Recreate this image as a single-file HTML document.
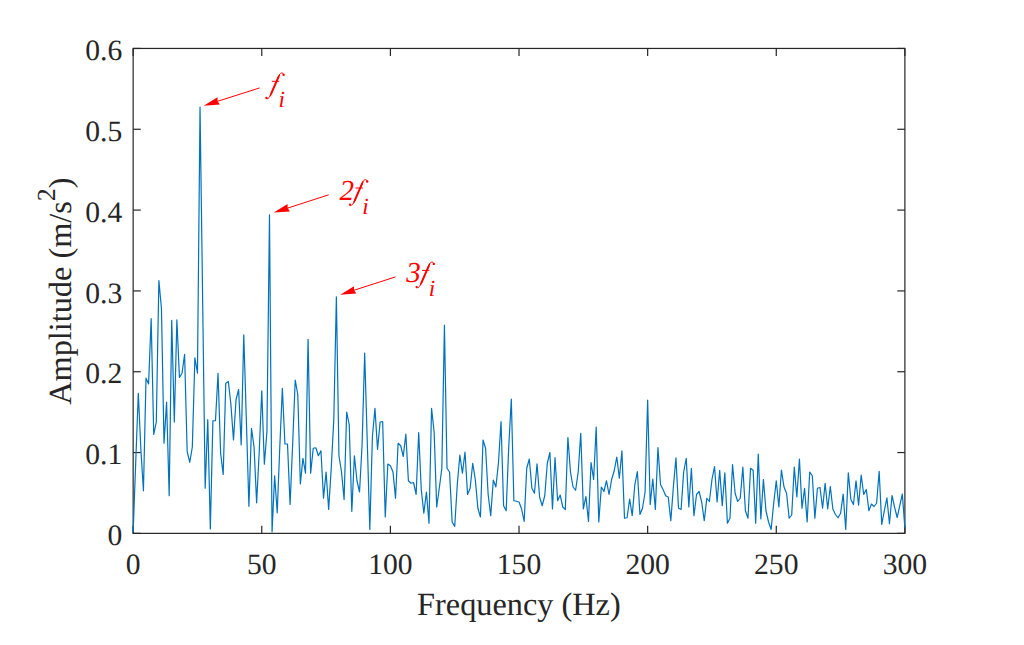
<!DOCTYPE html>
<html><head><meta charset="utf-8"><title>Spectrum</title>
<style>
html,body{margin:0;padding:0;background:#fff;}
svg{display:block;}
text{font-family:"Liberation Serif",serif;text-rendering:geometricPrecision;}
.tk{font-size:29.6px;fill:#262626;}
.lb{font-size:32.3px;fill:#262626;}
.an{font-size:29px;font-style:italic;fill:#FF0000;}
</style></head><body>
<svg width="1024" height="645" viewBox="0 0 1024 645">
<rect width="1024" height="645" fill="#fff"/>
<rect x="133.15" y="48.45" width="771.75" height="484.92" fill="none" stroke="#262626" stroke-width="1.2"/>
<line x1="133.15" y1="533.37" x2="133.15" y2="525.77" stroke="#262626" stroke-width="1.2"/>
<line x1="133.15" y1="48.45" x2="133.15" y2="56.050000000000004" stroke="#262626" stroke-width="1.2"/>
<text x="133.15" y="573.6" text-anchor="middle" class="tk">0</text>
<line x1="261.77" y1="533.37" x2="261.77" y2="525.77" stroke="#262626" stroke-width="1.2"/>
<line x1="261.77" y1="48.45" x2="261.77" y2="56.050000000000004" stroke="#262626" stroke-width="1.2"/>
<text x="261.77" y="573.6" text-anchor="middle" class="tk">50</text>
<line x1="390.40" y1="533.37" x2="390.40" y2="525.77" stroke="#262626" stroke-width="1.2"/>
<line x1="390.40" y1="48.45" x2="390.40" y2="56.050000000000004" stroke="#262626" stroke-width="1.2"/>
<text x="390.40" y="573.6" text-anchor="middle" class="tk">100</text>
<line x1="519.02" y1="533.37" x2="519.02" y2="525.77" stroke="#262626" stroke-width="1.2"/>
<line x1="519.02" y1="48.45" x2="519.02" y2="56.050000000000004" stroke="#262626" stroke-width="1.2"/>
<text x="519.02" y="573.6" text-anchor="middle" class="tk">150</text>
<line x1="647.65" y1="533.37" x2="647.65" y2="525.77" stroke="#262626" stroke-width="1.2"/>
<line x1="647.65" y1="48.45" x2="647.65" y2="56.050000000000004" stroke="#262626" stroke-width="1.2"/>
<text x="647.65" y="573.6" text-anchor="middle" class="tk">200</text>
<line x1="776.27" y1="533.37" x2="776.27" y2="525.77" stroke="#262626" stroke-width="1.2"/>
<line x1="776.27" y1="48.45" x2="776.27" y2="56.050000000000004" stroke="#262626" stroke-width="1.2"/>
<text x="776.27" y="573.6" text-anchor="middle" class="tk">250</text>
<line x1="904.90" y1="533.37" x2="904.90" y2="525.77" stroke="#262626" stroke-width="1.2"/>
<line x1="904.90" y1="48.45" x2="904.90" y2="56.050000000000004" stroke="#262626" stroke-width="1.2"/>
<text x="904.90" y="573.6" text-anchor="middle" class="tk">300</text>
<line x1="133.15" y1="533.37" x2="140.75" y2="533.37" stroke="#262626" stroke-width="1.2"/>
<line x1="904.9" y1="533.37" x2="897.3" y2="533.37" stroke="#262626" stroke-width="1.2"/>
<text x="122.2" y="545.07" text-anchor="end" class="tk">0</text>
<line x1="133.15" y1="452.55" x2="140.75" y2="452.55" stroke="#262626" stroke-width="1.2"/>
<line x1="904.9" y1="452.55" x2="897.3" y2="452.55" stroke="#262626" stroke-width="1.2"/>
<text x="122.2" y="464.25" text-anchor="end" class="tk">0.1</text>
<line x1="133.15" y1="371.73" x2="140.75" y2="371.73" stroke="#262626" stroke-width="1.2"/>
<line x1="904.9" y1="371.73" x2="897.3" y2="371.73" stroke="#262626" stroke-width="1.2"/>
<text x="122.2" y="383.43" text-anchor="end" class="tk">0.2</text>
<line x1="133.15" y1="290.91" x2="140.75" y2="290.91" stroke="#262626" stroke-width="1.2"/>
<line x1="904.9" y1="290.91" x2="897.3" y2="290.91" stroke="#262626" stroke-width="1.2"/>
<text x="122.2" y="302.61" text-anchor="end" class="tk">0.3</text>
<line x1="133.15" y1="210.09" x2="140.75" y2="210.09" stroke="#262626" stroke-width="1.2"/>
<line x1="904.9" y1="210.09" x2="897.3" y2="210.09" stroke="#262626" stroke-width="1.2"/>
<text x="122.2" y="221.79" text-anchor="end" class="tk">0.4</text>
<line x1="133.15" y1="129.27" x2="140.75" y2="129.27" stroke="#262626" stroke-width="1.2"/>
<line x1="904.9" y1="129.27" x2="897.3" y2="129.27" stroke="#262626" stroke-width="1.2"/>
<text x="122.2" y="140.97" text-anchor="end" class="tk">0.5</text>
<line x1="133.15" y1="48.45" x2="140.75" y2="48.45" stroke="#262626" stroke-width="1.2"/>
<line x1="904.9" y1="48.45" x2="897.3" y2="48.45" stroke="#262626" stroke-width="1.2"/>
<text x="122.2" y="60.15" text-anchor="end" class="tk">0.6</text>
<polyline points="133.15,532.00 135.72,462.50 138.30,393.25 140.87,449.50 143.44,490.80 146.01,378.20 148.59,384.00 151.16,318.50 153.73,434.50 156.30,422.00 158.88,280.50 161.45,308.50 164.02,443.25 166.59,402.00 169.17,495.75 171.74,320.25 174.31,422.00 176.88,319.75 179.45,377.50 182.03,373.25 184.60,354.25 187.17,451.50 189.75,462.40 192.32,447.00 194.89,357.75 197.46,373.25 200.03,107.00 202.61,297.62 205.18,488.25 207.75,419.50 210.32,529.00 212.90,420.75 215.47,420.75 218.04,373.25 220.62,453.25 223.19,474.50 225.76,383.25 228.33,381.50 230.91,404.50 233.48,440.00 236.05,399.50 238.62,389.50 241.19,445.00 243.77,334.75 246.34,419.50 248.91,506.30 251.49,428.25 254.06,447.00 256.63,502.80 259.20,452.00 261.77,390.75 264.35,464.20 266.92,432.00 269.49,214.75 272.06,532.00 274.64,475.75 277.21,512.80 279.78,447.00 282.36,388.25 284.93,444.00 287.50,444.00 290.07,504.50 292.64,444.50 295.22,380.00 297.79,394.50 300.36,484.00 302.94,458.25 305.51,473.25 308.08,339.25 310.65,473.25 313.23,448.25 315.80,447.75 318.37,455.75 320.94,450.75 323.51,498.25 326.09,472.00 328.66,509.50 331.23,468.25 333.80,419.50 336.38,296.75 338.95,455.75 341.52,472.00 344.10,499.50 346.67,412.00 349.24,424.50 351.81,511.50 354.38,455.75 356.96,480.75 359.53,492.00 362.10,444.50 364.67,353.00 367.25,441.25 369.82,529.50 372.39,437.00 374.96,408.25 377.54,449.50 380.11,422.00 382.68,421.50 385.25,517.00 387.83,464.00 390.40,465.75 392.97,472.00 395.54,498.25 398.12,443.25 400.69,445.75 403.26,456.50 405.84,434.00 408.41,480.75 410.98,483.25 413.55,482.50 416.12,494.50 418.70,432.50 421.27,489.50 423.84,513.25 426.41,492.00 428.99,523.25 431.56,408.25 434.13,432.00 436.70,507.00 439.28,488.25 441.85,468.25 444.42,325.20 447.00,468.25 449.57,472.00 452.14,522.00 454.71,526.50 457.28,484.50 459.86,455.00 462.43,473.25 465.00,452.00 467.57,494.50 470.15,488.25 472.72,463.25 475.29,479.50 477.87,508.25 480.44,517.00 483.01,440.00 485.58,448.25 488.15,494.50 490.73,515.75 493.30,480.00 495.87,487.00 498.44,463.25 501.02,421.50 503.59,505.75 506.16,510.75 508.74,447.00 511.31,399.00 513.88,500.75 516.45,501.25 519.02,502.00 521.60,509.00 524.17,521.50 526.74,468.25 529.31,459.00 531.89,488.25 534.46,493.25 537.03,463.75 539.61,497.00 542.18,505.75 544.75,495.75 547.32,463.25 549.89,452.50 552.47,509.00 555.04,457.50 557.61,500.75 560.18,495.00 562.76,507.00 565.33,509.50 567.90,437.50 570.48,472.00 573.05,487.00 575.62,490.25 578.19,472.00 580.76,433.25 583.34,509.00 585.91,496.50 588.48,521.50 591.05,462.50 593.63,479.50 596.20,427.00 598.77,522.00 601.34,487.00 603.92,491.50 606.49,480.75 609.06,494.50 611.63,479.50 614.21,470.75 616.78,457.00 619.35,478.25 621.92,450.75 624.50,518.25 627.07,517.75 629.64,499.00 632.21,515.75 634.79,485.00 637.36,471.50 639.93,514.50 642.50,508.25 645.08,492.00 647.65,400.00 650.22,504.50 652.79,479.00 655.37,509.50 657.94,447.50 660.51,484.50 663.08,489.50 665.66,495.75 668.23,497.00 670.80,520.75 673.37,487.00 675.95,457.75 678.52,508.25 681.09,509.50 683.66,472.00 686.24,458.25 688.81,507.00 691.38,468.25 693.95,515.75 696.53,494.50 699.10,491.50 701.67,502.00 704.24,520.75 706.82,498.25 709.39,501.50 711.96,479.50 714.53,466.50 717.11,502.00 719.68,470.25 722.25,505.75 724.82,472.75 727.40,523.25 729.97,518.25 732.54,464.50 735.11,493.25 737.69,501.50 740.26,498.25 742.83,467.00 745.40,510.75 747.98,518.25 750.55,468.25 753.12,470.25 755.69,523.25 758.27,454.00 760.84,519.00 763.41,479.50 765.98,510.75 768.56,522.00 771.13,529.50 773.70,503.25 776.27,480.75 778.85,507.00 781.42,470.00 783.99,487.00 786.56,493.25 789.14,518.25 791.71,515.00 794.28,467.00 796.85,497.00 799.43,459.00 802.00,508.25 804.57,488.25 807.14,522.00 809.72,472.00 812.29,475.75 814.86,518.25 817.43,488.25 820.01,487.50 822.58,508.25 825.15,483.25 827.72,509.00 830.30,486.50 832.87,509.00 835.44,514.50 838.01,517.75 840.59,513.25 843.16,494.00 845.73,529.50 848.30,472.75 850.88,499.50 853.45,504.50 856.02,480.75 858.59,505.25 861.17,475.00 863.74,494.50 866.31,489.50 868.88,510.75 871.46,504.00 874.03,506.50 876.60,503.25 879.17,471.25 881.75,524.50 884.32,510.75 886.89,497.90 889.46,523.70 892.04,495.50 894.61,507.30 897.18,517.50 899.75,505.70 902.33,494.00 904.90,528.30" fill="none" stroke="#0072BD" stroke-width="1.2" stroke-linejoin="round" stroke-linecap="butt"/>
<text x="518.9" y="614.8" text-anchor="middle" class="lb">Frequency (Hz)</text>
<text transform="translate(71.0,291.1) rotate(-90)" text-anchor="middle" class="lb">Amplitude (m/s<tspan dy="-16.25" font-size="26">2</tspan><tspan dy="16.25">)</tspan></text>
<line x1="259.60" y1="87.95" x2="217.62" y2="101.28" stroke="#FF0000" stroke-width="1.0"/><polygon points="203.70,105.70 217.50,97.28 217.62,101.28 219.83,104.62" fill="#FF0000"/>
<line x1="328.70" y1="194.80" x2="287.69" y2="208.10" stroke="#FF0000" stroke-width="1.0"/><polygon points="273.80,212.60 287.55,204.10 287.69,208.10 289.92,211.42" fill="#FF0000"/>
<line x1="395.50" y1="276.90" x2="354.10" y2="290.23" stroke="#FF0000" stroke-width="1.0"/><polygon points="340.20,294.70 353.97,286.22 354.10,290.23 356.32,293.55" fill="#FF0000"/>
<g transform="translate(270.5,92.8)" fill="none" stroke="#FF0000" stroke-linecap="round" stroke-linejoin="round"><path d="M 13.1,-18.3 C 12.8,-20.4 10.1,-20.5 8.9,-18.0 L 8.0,-16.0 L 0.3,1.6 C -0.6,3.8 -1.7,6.0 -3.4,6.0" stroke-width="1.0"/><path d="M 7.9,-15.6 L 0.9,0.4" stroke-width="2.0"/><path d="M 8.8,-17.6 L 7.9,-15.6" stroke-width="1.5"/><path d="M 0.9,0.4 L -0.1,2.6" stroke-width="1.5"/><path d="M 1.3,-11.5 L 8.7,-11.5" stroke-width="1.0" stroke-linecap="butt"/><circle cx="13.1" cy="-18.0" r="1.2" fill="#FF0000" stroke="none"/><circle cx="-4.1" cy="5.2" r="1.15" fill="#FF0000" stroke="none"/></g><text x="278.56" y="107.3" class="an" style="font-size:23.2px">i</text>
<text x="339.6" y="199.5" class="an">2</text><g transform="translate(354.1,199.5)" fill="none" stroke="#FF0000" stroke-linecap="round" stroke-linejoin="round"><path d="M 13.1,-18.3 C 12.8,-20.4 10.1,-20.5 8.9,-18.0 L 8.0,-16.0 L 0.3,1.6 C -0.6,3.8 -1.7,6.0 -3.4,6.0" stroke-width="1.0"/><path d="M 7.9,-15.6 L 0.9,0.4" stroke-width="2.0"/><path d="M 8.8,-17.6 L 7.9,-15.6" stroke-width="1.5"/><path d="M 0.9,0.4 L -0.1,2.6" stroke-width="1.5"/><path d="M 1.3,-11.5 L 8.7,-11.5" stroke-width="1.0" stroke-linecap="butt"/><circle cx="13.1" cy="-18.0" r="1.2" fill="#FF0000" stroke="none"/><circle cx="-4.1" cy="5.2" r="1.15" fill="#FF0000" stroke="none"/></g><text x="362.16" y="214.0" class="an" style="font-size:23.2px">i</text>
<text x="406.2" y="281.9" class="an">3</text><g transform="translate(420.7,281.9)" fill="none" stroke="#FF0000" stroke-linecap="round" stroke-linejoin="round"><path d="M 13.1,-18.3 C 12.8,-20.4 10.1,-20.5 8.9,-18.0 L 8.0,-16.0 L 0.3,1.6 C -0.6,3.8 -1.7,6.0 -3.4,6.0" stroke-width="1.0"/><path d="M 7.9,-15.6 L 0.9,0.4" stroke-width="2.0"/><path d="M 8.8,-17.6 L 7.9,-15.6" stroke-width="1.5"/><path d="M 0.9,0.4 L -0.1,2.6" stroke-width="1.5"/><path d="M 1.3,-11.5 L 8.7,-11.5" stroke-width="1.0" stroke-linecap="butt"/><circle cx="13.1" cy="-18.0" r="1.2" fill="#FF0000" stroke="none"/><circle cx="-4.1" cy="5.2" r="1.15" fill="#FF0000" stroke="none"/></g><text x="428.76" y="296.4" class="an" style="font-size:23.2px">i</text>
</svg>
</body></html>
